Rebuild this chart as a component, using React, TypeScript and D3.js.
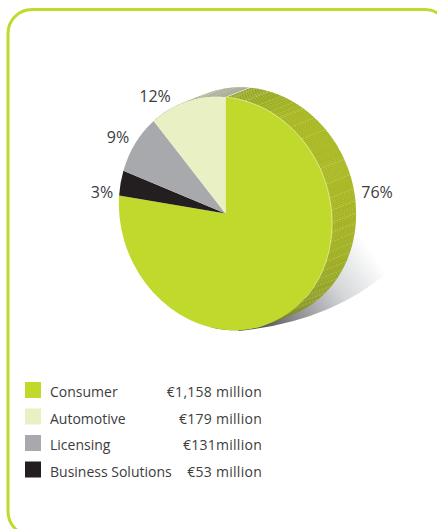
import React from "react";
import * as d3 from "d3";

const categories = ["Consumer", "Business Solutions", "Licensing", "Automotive"];
const amounts = [1158, 53, 131, 179];
const sliceColors = ["#C1D92D", "#231F20", "#A7A9AC", "#E9F1C4"];
const percentLabels = ["76%", "3%", "9%", "12%"];

const legendNames = ["Consumer", "Automotive", "Licensing", "Business Solutions"];
const legendAmounts = ["€1,158 million", "€179 million", "€131million", "€53 million"];
const legendColors = ["#C1D92D", "#E9F1C4", "#A7A9AC", "#231F20"];

// Angles (degrees clockwise from 12 o'clock) of the pale ticks on the pie's rim.
const rimTicks = [-35, -29, -23, -17, -11, -5, 6, 13, 20, 27, 33, 40, 48, 65, 73, 80, 86, 92, 97, 102, 107, 112, 117, 122, 127, 132, 137, 142];

const W = 437, H = 529;
const cx = 225.5, cy = 213.5, rx = 106.5, ry = 116.7, skew = 0.042;
const dx = 24, dy = -9.5;
const deg = Math.PI / 180;
const startDeg = 2.4;
const font = "'Open Sans', 'Noto Sans', sans-serif";
const ink = "#3C3C3E";

const labelPos = [
  { x: 377, y: 198 },
  { x: 102, y: 198 },
  { x: 118, y: 143 },
  { x: 155, y: 102 },
];

const pt = (a: number, ox = 0, oy = 0): [number, number] => {
  const s = Math.sin(a), c = -Math.cos(a);
  return [cx + rx * (s + skew * c) + ox, cy + ry * (c + skew * s) + oy];
};

const rimTone = d3
  .scaleLinear<string>()
  .domain([0, 35, 70, 110, 140, 165])
  .range(["#8E9F1B", "#A8B823", "#ABBA25", "#A0AF20", "#8C9C17", "#788A0E"])
  .clamp(true);

export default function App() {
  const start = startDeg * deg;
  const pie = d3.pie<number>().sort(null).value((d) => d).startAngle(start).endAngle(start + 2 * Math.PI);
  const arcs = pie(amounts);
  const arc = d3.arc<d3.PieArcDatum<number>>().innerRadius(0).outerRadius(1);

  const autoStart = arcs[3].startAngle - 2 * Math.PI;
  const line = d3.line();
  const stepsA = d3.range(autoStart, 190 * deg, 1 * deg);

  const rowY = d3.scaleLinear().domain([0, 3]).range([398, 477.5]);

  return (
    <svg
      width={W}
      height={H}
      viewBox={`0 0 ${W} ${H}`}
      style={{ position: "absolute", left: 0, top: 0, display: "block", background: "#fff" }}
    >
      <defs>
        <linearGradient id="shadow" gradientUnits="userSpaceOnUse" x1={258} y1={332} x2={372} y2={252}>
          <stop offset="0" stopColor="#4A4B50" />
          <stop offset="0.3" stopColor="#8F9195" />
          <stop offset="0.65" stopColor="#D4D6D8" />
          <stop offset="1" stopColor="#FFFFFF" />
        </linearGradient>
      </defs>

      <rect x={8} y={9.5} width={441} height={526} rx={24} ry={24} fill="none" stroke="#C1D92D" strokeWidth={3} />

      <path d="M352,222 L388,272 Q330,322 238,331 Z" fill="url(#shadow)" />

      {stepsA.map((a, i) => {
        const b = Math.min(a + 1.15 * deg, a < start ? start : Infinity);
        const c = a < start ? "#9EA48C" : rimTone(a / deg);
        const p = [pt(a), pt(b), pt(b, dx, dy), pt(a, dx, dy)] as [number, number][];
        return <path key={i} d={line(p) + "Z"} fill={c} />;
      })}

      {rimTicks.map((a, i) => {
        const rad = a * deg;
        const p0 = pt(rad), p1 = pt(rad, dx, dy);
        return (
          <line
            key={i}
            x1={p0[0]}
            y1={p0[1]}
            x2={p1[0]}
            y2={p1[1]}
            stroke="#E8EEB4"
            strokeOpacity={0.42}
            strokeWidth={0.7}
            strokeDasharray="2.5 1.2"
          />
        );
      })}

      <g transform={`matrix(${rx},${ry * skew},${rx * skew},${ry},${cx},${cy})`}>
        {arcs.map((d, i) => (
          <path key={categories[i]} d={arc(d) ?? ""} fill={sliceColors[i]} />
        ))}
      </g>

      <path
        d={line(d3.range(4, 135, 2).map((a) => pt(a * deg))) ?? ""}
        fill="none"
        stroke="#E2EC90"
        strokeWidth={0.7}
      />

      {percentLabels.map((t, i) => (
        <text key={t} x={labelPos[i].x} y={labelPos[i].y} textAnchor="middle" fontFamily={font} fontSize={16} fill={ink}>
          {t}
        </text>
      ))}

      {legendNames.map((n, i) => (
        <g key={n}>
          <rect x={25} y={rowY(i) - 16} width={16} height={16} fill={legendColors[i]} />
          <text x={50} y={rowY(i) - 0.7} fontFamily={font} fontSize={14} fill={ink}>
            {n}
          </text>
          <text x={262} y={rowY(i) - 0.7} textAnchor="end" letterSpacing={0.27} fontFamily={font} fontSize={14} fill={ink}>
            {legendAmounts[i]}
          </text>
        </g>
      ))}
    </svg>
  );
}
